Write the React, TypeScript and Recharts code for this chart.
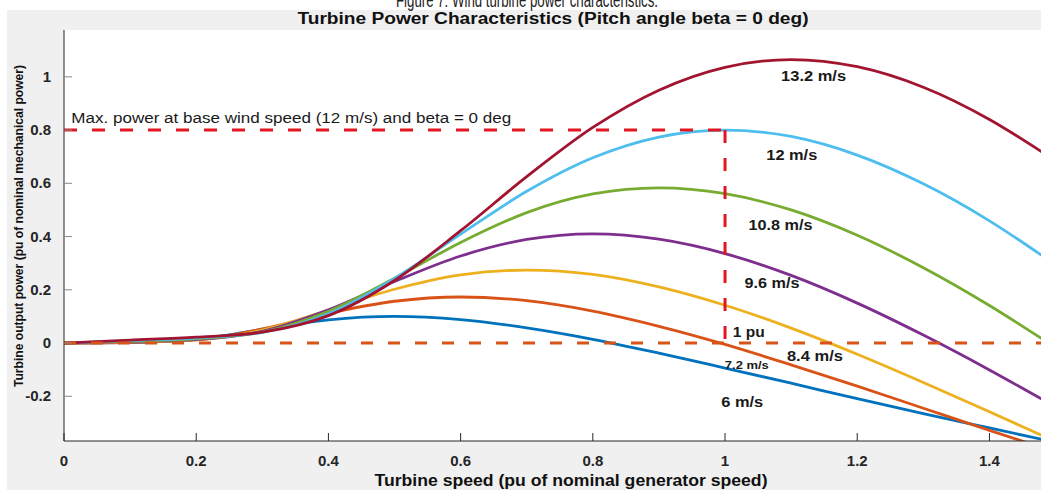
import React from 'react';
import { LineChart, Line, XAxis, YAxis, CartesianGrid, ReferenceLine, ReferenceDot } from 'recharts';

// Turbine speed (pu of nominal generator speed)
const speed = [0, 0.1, 0.2, 0.3, 0.4, 0.5, 0.6, 0.7, 0.8, 0.9, 1.0, 1.1, 1.2, 1.3, 1.4, 1.48];

// Turbine output power (pu) for each wind speed, pitch angle beta = 0 deg
const p6 = [0, 0.002, 0.014, 0.051, 0.087, 0.1, 0.088, 0.057, 0.014, -0.038, -0.094, -0.151, -0.209, -0.265, -0.319, -0.362];
const p72 = [0, 0.003, 0.012, 0.053, 0.112, 0.157, 0.173, 0.159, 0.12, 0.063, -0.005, -0.082, -0.162, -0.245, -0.328, -0.393];
const p84 = [0, 0.005, 0.012, 0.049, 0.124, 0.202, 0.256, 0.274, 0.258, 0.211, 0.142, 0.056, -0.042, -0.148, -0.258, -0.348];
const p96 = [0, 0.006, 0.013, 0.044, 0.125, 0.231, 0.327, 0.389, 0.41, 0.39, 0.336, 0.254, 0.15, 0.03, -0.101, -0.212];
const p108 = [0, 0.007, 0.016, 0.041, 0.119, 0.243, 0.378, 0.49, 0.56, 0.583, 0.561, 0.5, 0.405, 0.283, 0.141, 0.015];
const p12 = [0, 0.009, 0.019, 0.04, 0.11, 0.243, 0.409, 0.57, 0.696, 0.774, 0.8, 0.776, 0.706, 0.598, 0.459, 0.328];
const p132 = [0, 0.011, 0.022, 0.041, 0.103, 0.235, 0.422, 0.625, 0.81, 0.95, 1.036, 1.065, 1.038, 0.961, 0.84, 0.717];

const xTicks = [0, 0.2, 0.4, 0.6, 0.8, 1, 1.2, 1.4];
const yTicks = [-0.2, 0, 0.2, 0.4, 0.6, 0.8, 1];

// Base operating point: 12 m/s wind, 1 pu speed, 0.8 pu power
const baseSpeedPu = 1;
const basePowerPu = 0.8;

// Curve annotations: text, speed, power, font size, drawn width
const curveLabels: [string, number, number, number, number][] = [
  ['13.2 m/s', 1.134, 1.004, 15, 65],
  ['12 m/s', 1.101, 0.707, 15, 51],
  ['10.8 m/s', 1.084, 0.445, 15, 64],
  ['9.6 m/s', 1.071, 0.227, 15, 55],
  ['1 pu', 1.036, 0.043, 15, 32],
  ['8.4 m/s', 1.136, -0.047, 15, 56],
  ['7.2 m/s', 1.033, -0.081, 11.5, 44],
  ['6 m/s', 1.026, -0.22, 15, 42],
];
const maxPowerNote: [string, number, number] = ['Max. power at base wind speed (12 m/s) and beta = 0 deg', 0.011, 0.846];

const series = [
  { key: 'v6', values: p6, color: '#0072BD' },
  { key: 'v72', values: p72, color: '#D95319' },
  { key: 'v84', values: p84, color: '#EDB120' },
  { key: 'v96', values: p96, color: '#7E2F8E' },
  { key: 'v108', values: p108, color: '#77AC30' },
  { key: 'v12', values: p12, color: '#4DBEEE' },
  { key: 'v132', values: p132, color: '#A2142F' },
];

const rows = speed.map((w, i) => {
  const r: Record<string, number> = { w };
  series.forEach((s) => {
    r[s.key] = s.values[i];
  });
  return r;
});

const FONT = '"Liberation Sans", Arial, Helvetica, sans-serif';
const INK = '#262626';

const BottomTick = (props: any) => {
  const { x, y, payload } = props;
  return (
    <g>
      <line x1={x} x2={x} y1={y} y2={y - 8} stroke={INK} strokeWidth={1} />
      <text x={x} y={y + 25} textAnchor="middle" fontFamily={FONT} fontWeight="bold" fontSize={15} fill={INK}>
        {String(payload.value)}
      </text>
    </g>
  );
};

const TopTick = (props: any) => {
  const { x, y } = props;
  return <line x1={x} x2={x} y1={y} y2={y + 8} stroke={INK} strokeWidth={1} />;
};

const LeftTick = (props: any) => {
  const { x, y, payload } = props;
  return (
    <g>
      <line x1={x} x2={x + 8} y1={y} y2={y} stroke="#8a8a8a" strokeWidth={1} />
      <text x={x - 13} y={y + 5} textAnchor="end" fontFamily={FONT} fontWeight="bold" fontSize={15} fill={INK}>
        {String(payload.value)}
      </text>
    </g>
  );
};

const textLabel =
  (text: string, size: number, width: number, bold: boolean, anchor: 'middle' | 'start') =>
  (props: any) => {
    const vb = props.viewBox || { x: 0, y: 0, width: 0, height: 0 };
    const cx = vb.x + (vb.width || 0) / 2;
    const cy = vb.y + (vb.height || 0) / 2;
    return (
      <text
        x={anchor === 'start' ? vb.x : cx}
        y={cy}
        dy="0.35em"
        textAnchor={anchor}
        fontFamily={FONT}
        fontWeight={bold ? 'bold' : 'normal'}
        fontSize={size}
        fill="#1a1a1a"
        textLength={width}
        lengthAdjust="spacingAndGlyphs"
      >
        {text}
      </text>
    );
  };

export default function App() {
  return (
    <div style={{ position: 'absolute', left: 0, top: 0, width: 1041, height: 490, background: '#fff', overflow: 'hidden' }}>
      <div style={{ position: 'absolute', left: 7, top: 10, right: 0, bottom: 0, background: '#f0f0f0' }} />
      <div style={{ position: 'absolute', left: 0, top: 0 }}>
        <LineChart width={1041} height={490} data={rows} margin={{ top: 30, right: 0, bottom: 0, left: 0 }}>
          <CartesianGrid fill="#ffffff" horizontal={false} vertical={false} />
          <XAxis
            dataKey="w"
            type="number"
            domain={[0, 1.478]}
            allowDataOverflow
            ticks={xTicks}
            interval={0}
            height={49}
            tickSize={0}
            tickMargin={0}
            tickLine={false}
            axisLine={{ stroke: INK, strokeWidth: 1 }}
            tick={<BottomTick />}
          />
          <XAxis
            xAxisId="top"
            orientation="top"
            dataKey="w"
            type="number"
            domain={[0, 1.478]}
            allowDataOverflow
            ticks={xTicks}
            interval={0}
            height={0}
            tickSize={0}
            tickMargin={0}
            tickLine={false}
            axisLine={{ stroke: INK, strokeWidth: 1 }}
            tick={<TopTick />}
          />
          <YAxis
            type="number"
            domain={[-0.368, 1.176]}
            allowDataOverflow
            ticks={yTicks}
            interval={0}
            width={64}
            tickSize={0}
            tickMargin={0}
            tickLine={false}
            axisLine={{ stroke: INK, strokeWidth: 1 }}
            tick={<LeftTick />}
          />
          {series.map((s) => (
            <Line
              key={s.key}
              dataKey={s.key}
              stroke={s.color}
              strokeWidth={2.8}
              dot={false}
              type="monotone"
              isAnimationActive={false}
            />
          ))}
          <ReferenceLine y={0} stroke="#D95319" strokeWidth={3} strokeDasharray="12 15" />
          <ReferenceLine
            segment={[{ x: 0, y: basePowerPu }, { x: baseSpeedPu, y: basePowerPu }]}
            stroke="#e3161f"
            strokeWidth={3}
            strokeDasharray="13 15"
          />
          <ReferenceLine
            segment={[{ x: baseSpeedPu, y: basePowerPu }, { x: baseSpeedPu, y: 0 }]}
            stroke="#e3161f"
            strokeWidth={3}
            strokeDasharray="13 15"
          />
          {curveLabels.map(([t, x, y, size, width]) => (
            <ReferenceDot
              key={t}
              x={x}
              y={y}
              r={0}
              fill="none"
              stroke="none"
              label={textLabel(t, size, width, true, 'middle')}
            />
          ))}
          <ReferenceDot
            x={maxPowerNote[1]}
            y={maxPowerNote[2]}
            r={0}
            fill="none"
            stroke="none"
            label={textLabel(maxPowerNote[0], 15.5, 440, false, 'start')}
          />
        </LineChart>
      </div>
      <svg width={1041} height={490} style={{ position: 'absolute', left: 0, top: 0, pointerEvents: 'none' }}>
        <text x={527} y={7} textAnchor="middle" fontFamily={FONT} fontSize={21} fill="#222" textLength={262} lengthAdjust="spacingAndGlyphs">
          Figure 7: Wind turbine power characteristics.
        </text>
        <text x={553} y={24} textAnchor="middle" fontFamily={FONT} fontWeight="bold" fontSize={16} fill="#111" textLength={511} lengthAdjust="spacingAndGlyphs">
          Turbine Power Characteristics (Pitch angle beta = 0 deg)
        </text>
        <text x={571} y={486} textAnchor="middle" fontFamily={FONT} fontWeight="bold" fontSize={16} fill="#111" textLength={393} lengthAdjust="spacingAndGlyphs">
          Turbine speed (pu of nominal generator speed)
        </text>
        <text
          x={0}
          y={0}
          transform="translate(23 226) rotate(-90)"
          textAnchor="middle"
          fontFamily={FONT}
          fontWeight="bold"
          fontSize={12}
          fill="#111"
          textLength={322}
          lengthAdjust="spacingAndGlyphs"
        >
          Turbine output power (pu of nominal mechanical power)
        </text>
      </svg>
    </div>
  );
}
